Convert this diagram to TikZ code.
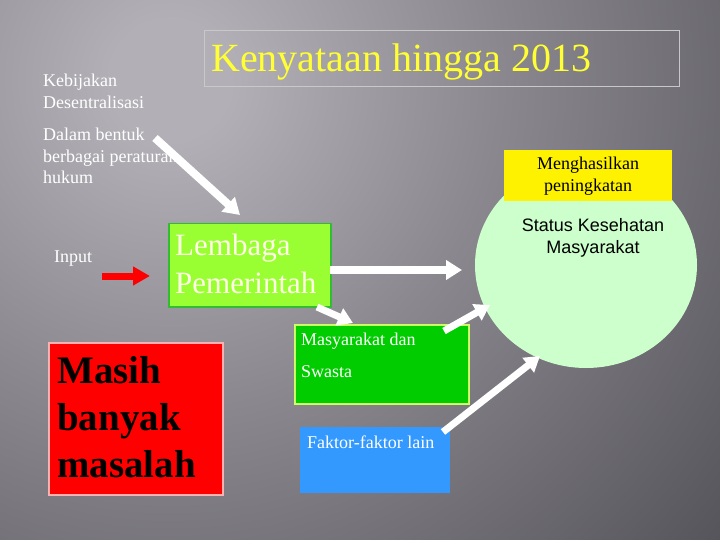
\documentclass[tikz,border=0pt]{standalone}
\usepackage{fontspec}
\setmainfont{Liberation Serif}
\newfontfamily\arialf{Liberation Sans}
\usetikzlibrary{arrows.meta,shapes.geometric}
\newcommand\myfs[2]{\fontsize{#1}{#2}\selectfont}
\definecolor{bgLight}{HTML}{B2B0B6}
\definecolor{bgMid}{HTML}{8A888E}
\definecolor{bgDark}{HTML}{55545A}
\definecolor{titleline}{HTML}{C8C8C8}
\definecolor{titleyellow}{HTML}{FFFF33}
\definecolor{lgreen}{HTML}{99FF33}
\definecolor{lgreenline}{HTML}{33BB33}
\definecolor{mgreen}{HTML}{00CC00}
\definecolor{mgreenline}{HTML}{CCFF66}
\definecolor{bluebox}{HTML}{3399FF}
\definecolor{redline}{HTML}{FFB0B0}
\definecolor{ellfill}{HTML}{CCFFCC}
\definecolor{cream}{HTML}{FFFFE6}
\pgfdeclareradialshading{bgr}{\pgfpoint{0bp}{0bp}}{color(0bp)=(bgLight); color(60bp)=(bgLight); color(330bp)=(bgMid); color(720bp)=(bgDark); color(740bp)=(bgDark)}
\begin{document}
\begin{tikzpicture}[x=1pt,y=-1pt,
  txt/.style={inner sep=0, anchor=base west, text=white, align=left},
  boxn/.style={anchor=north west, inner sep=0},
  arr/.style={draw=white, line width=8pt, -{Triangle[length=16pt,width=19pt]}},
  arrs/.style={draw=white, line width=7pt, -{Triangle[length=15pt,width=18pt]}},
  redarr/.style={draw=red, line width=7pt, -{Triangle[length=17pt,width=18pt]}}]
\useasboundingbox (0,0) rectangle (720,540);
\begin{scope}
\clip (0,0) rectangle (720,540);
\node[inner sep=0] (bg) at (170,80) {\pgfuseshading{bgr}};
\end{scope}
% title
\node[boxn, draw=titleline, line width=1pt, minimum width=475pt, minimum height=56pt] (titlebox) at (204,30) {};
\node[inner sep=0, anchor=base west, text=titleyellow, font=\myfs{40}{48}] (title) at (211,72) {Kenyataan hingga 2013};
% left texts (anchor = baseline of last line)
\node[txt, font=\myfs{18}{22}] (kebijakan) at (43,109) {Kebijakan\\Desentralisasi};
\node[txt, font=\myfs{18}{21.5}] (dalam) at (43,184) {Dalam bentuk\\berbagai peraturan\\hukum};
\node[txt, font=\myfs{18}{22}] (input) at (54,262) {Input};
% red box
\node[boxn, fill=red, draw=redline, line width=1.5pt, minimum width=174pt, minimum height=152pt] (redbox) at (48,342) {};
\node[txt, text=black, font=\bfseries\myfs{39}{47}] (masih) at (57,477) {Masih\\banyak\\masalah};
% lembaga
\node[boxn, fill=lgreen, draw=lgreenline, line width=1.5pt, minimum width=162pt, minimum height=83pt] (lembaga) at (168,223) {};
\node[txt, text=cream, font=\myfs{31}{38}] (lembagatxt) at (175,293) {Lembaga\\Pemerintah};
% masyarakat
\node[boxn, fill=mgreen, draw=mgreenline, line width=1.5pt, minimum width=174pt, minimum height=79pt] (masy) at (294,324) {};
\node[txt, font=\myfs{18}{32}] (masytxt) at (301,377) {Masyarakat dan\\Swasta};
% faktor
\node[boxn, fill=bluebox, minimum width=150pt, minimum height=66pt] (faktor) at (300,427) {};
\node[txt, font=\myfs{18}{22}] (faktortxt) at (307,448) {Faktor-faktor lain};
% status ellipse
\node[ellipse, fill=ellfill, minimum width=222pt, minimum height=206pt, inner sep=0] (status) at (586,265) {};
\node[boxn, fill=yellow, minimum width=168pt, minimum height=51pt] (hasil) at (504,150) {};
\node[inner sep=0, anchor=base, align=center, font=\myfs{18}{22}] (hasiltxt) at (588,192) {Menghasilkan\\peningkatan};
\node[inner sep=0, anchor=base, align=center, font=\arialf\myfs{18}{21}] (statustxt) at (593,253) {Status Kesehatan\\Masyarakat};
% arrow coordinates
\coordinate (a1s) at (155,138);
\coordinate (a1e) at (240,215);
\coordinate (a2s) at (330,270);
\coordinate (a2e) at (462,270);
\coordinate (a3s) at (317,307);
\coordinate (a3e) at (353,323);
\coordinate (a4s) at (444,331);
\coordinate (a4e) at (490,305);
\coordinate (a5s) at (443,432);
\coordinate (a5e) at (540,356);
\coordinate (ras) at (102,276);
\coordinate (rae) at (150,276);
\draw[arr] (a1s) -- (a1e);
\draw[arr] (a2s) -- (a2e);
\draw[arrs] (a3s) -- (a3e);
\draw[arrs] (a4s) -- (a4e);
\draw[arrs] (a5s) -- (a5e);
\draw[redarr] (ras) -- (rae);
\end{tikzpicture}
\end{document}
